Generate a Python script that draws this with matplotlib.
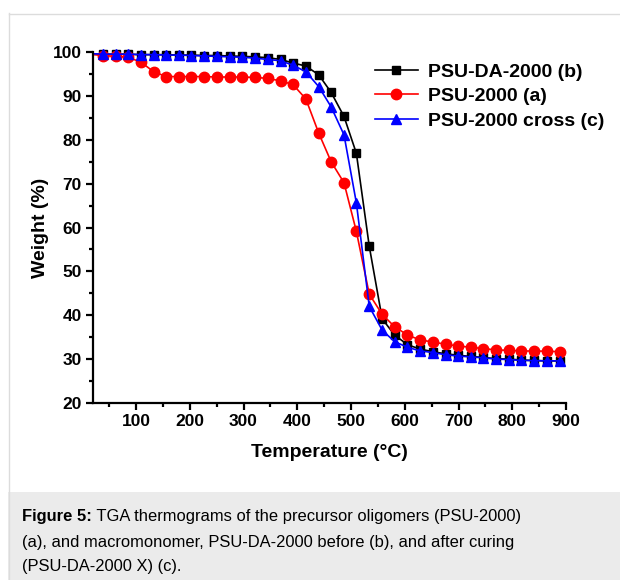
import matplotlib
matplotlib.use("Agg")
import matplotlib.pyplot as plt
from matplotlib.patches import Rectangle
from matplotlib.lines import Line2D

plt.rcParams['font.family'] = ['Liberation Sans', 'DejaVu Sans']

# temperature grid (°C) shared by the three curves (first point has no marker)
temp = [21, 38, 62, 85, 109, 133, 156, 180, 203, 227, 251, 274, 298, 321, 345,
        369, 392, 416, 440, 463, 487, 510, 534, 558, 581, 605, 628, 652,
        676, 699, 723, 746, 770, 794, 817, 841, 864, 888]

# PSU-DA-2000 (b)
w_da = [99.5, 99.5, 99.5, 99.5, 99.4, 99.4, 99.4, 99.3, 99.3, 99.2, 99.2, 99.1,
        99.0, 98.9, 98.7, 98.3, 97.5, 96.8, 94.8, 90.8, 85.3, 76.9, 55.7,
        39.2, 35.5, 33.3, 32.3, 31.7, 31.2, 30.9, 30.6, 30.4, 30.1, 30.0,
        29.8, 29.7, 29.6, 29.6]

# PSU-2000 (a)
w_psu = [99.4, 99.2, 99.0, 98.8, 97.7, 95.5, 94.4, 94.4, 94.4, 94.4, 94.3, 94.3,
         94.3, 94.2, 94.0, 93.4, 92.6, 89.3, 81.5, 75.0, 70.2, 59.1, 44.8,
         40.2, 37.4, 35.5, 34.4, 33.9, 33.4, 33.0, 32.7, 32.4, 32.1, 32.0,
         31.85, 31.85, 31.8, 31.7]

# PSU-2000 cross (c)
w_cross = [99.6, 99.5, 99.5, 99.5, 99.4, 99.4, 99.3, 99.3, 99.2, 99.1, 99.0, 98.9,
           98.8, 98.6, 98.3, 98.0, 97.0, 95.5, 92.1, 87.5, 81.1, 65.6, 42.0,
           36.6, 34.0, 32.7, 31.9, 31.5, 31.0, 30.7, 30.5, 30.3, 30.0, 29.9,
           29.7, 29.65, 29.6, 29.6]

labels = ['PSU-DA-2000 (b)', 'PSU-2000 (a)', 'PSU-2000 cross (c)']
caption_bold = 'Figure 5:'
caption_lines = [' TGA thermograms of the precursor oligomers (PSU-2000)',
                 '(a), and macromonomer, PSU-DA-2000 before (b), and after curing',
                 '(PSU-DA-2000 X) (c).']

W, H = 620, 580
fig = plt.figure(figsize=(W / 100, H / 100), dpi=100)

# panel frame and caption box
fig.patches.append(Rectangle((8 / W, 0), 1, 88 / H, transform=fig.transFigure,
                             facecolor='#ebebeb', edgecolor='none', zorder=0))
fig.add_artist(Line2D([8.5 / W, 8.5 / W], [0, 1 - 13 / H], color='#dcdcdc', lw=1))
fig.add_artist(Line2D([8.5 / W, 1], [1 - 13.5 / H, 1 - 13.5 / H], color='#dcdcdc', lw=1))

ax = fig.add_axes([93 / W, 1 - 403 / H, (566 - 93) / W, (403 - 52) / H])

marks = range(1, len(temp))
ax.plot(temp, w_da, color='black', marker='s', markersize=5.8, lw=1.2,
        markevery=marks, label=labels[0], clip_on=False)
ax.plot(temp, w_psu, color='#ff0000', marker='o', markersize=7.5, lw=1.2,
        markevery=marks, label=labels[1], clip_on=False)
ax.plot(temp, w_cross, color='#0000ff', marker='^', markersize=7.5, lw=1.2,
        markevery=marks, label=labels[2], clip_on=False)

ax.set_xlim(20, 900)
ax.set_ylim(20, 100)
ax.set_xticks(range(100, 901, 100))
ax.set_xticks(range(50, 901, 100), minor=True)
ax.set_yticks(range(20, 101, 10))
ax.set_yticks(range(25, 100, 10), minor=True)

for side in ['top', 'right']:
    ax.spines[side].set_visible(False)
for side in ['left', 'bottom']:
    ax.spines[side].set_linewidth(1.6)

ax.tick_params(which='major', direction='out', length=5, width=1.6, labelsize=12.5, pad=3)
ax.tick_params(which='minor', direction='out', length=3, width=1.6)
for t in ax.get_xticklabels() + ax.get_yticklabels():
    t.set_fontweight('bold')

ax.set_xlabel('Temperature (°C)', fontsize=14, fontweight='bold', labelpad=11)
ax.set_ylabel('Weight (%)', fontsize=14, fontweight='bold', labelpad=3)

leg = ax.legend(loc='upper left', bbox_to_anchor=((375 - 93) / 473, (403 - 63) / 351),
                frameon=False, borderpad=0, borderaxespad=0,
                handlelength=2.2, handletextpad=0.5, labelspacing=0.36,
                prop={'weight': 'bold', 'size': 14})

# caption with bold lead-in
fig.canvas.draw()
r = fig.canvas.get_renderer()
cap_size = 11.9
y0 = 1 - 517 / H
tb = fig.text(22 / W, y0, caption_bold, fontsize=cap_size, fontweight='bold', va='center')
bb = tb.get_window_extent(renderer=r)
fig.text(bb.x1 / W, y0, caption_lines[0], fontsize=cap_size, va='center')
fig.text(22 / W, 1 - 542 / H, caption_lines[1], fontsize=cap_size, va='center')
fig.text(22 / W, 1 - 566 / H, caption_lines[2], fontsize=cap_size, va='center')

fig.savefig('out.png', dpi=100)
